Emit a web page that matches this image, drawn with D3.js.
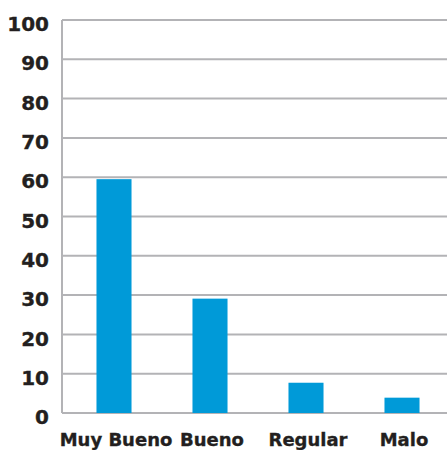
<!DOCTYPE html>
<html>
<head>
<meta charset="utf-8">
<script src="https://cdn.jsdelivr.net/npm/d3@7"></script>
<style>
  html, body { margin: 0; padding: 0; background: #fff; }
  svg { display: block; }
</style>
</head>
<body>
<svg id="chart" width="447" height="450"></svg>
<script>
const categories = ["Muy Bueno", "Bueno", "Regular", "Malo"];
const values = [59.5, 29.1, 7.7, 3.9];
const yTicks = [0, 10, 20, 30, 40, 50, 60, 70, 80, 90, 100];

const svg = d3.select("#chart");
const plot = { left: 62, right: 450, top: 20, bottom: 413 };
const textColor = "#231f20";
const fontFamily = "'DejaVu Sans', Verdana, sans-serif";

const x = d3.scaleBand()
  .domain(categories)
  .range([66, 450])
  .paddingInner(0.635)
  .paddingOuter(0.3175);

const y = d3.scaleLinear().domain([0, 100]).range([plot.bottom, plot.top]);

// horizontal gridlines
svg.append("g")
  .selectAll("line")
  .data(yTicks)
  .join("line")
  .attr("x1", plot.left)
  .attr("x2", plot.right)
  .attr("y1", d => y(d))
  .attr("y2", d => y(d))
  .attr("stroke", "#b3b3b6")
  .attr("stroke-width", 2);

// vertical axis line
svg.append("line")
  .attr("x1", plot.left).attr("x2", plot.left)
  .attr("y1", plot.top).attr("y2", plot.bottom)
  .attr("stroke", "#b3b3b6")
  .attr("stroke-width", 2);

// y tick labels
const yAxis = d3.axisLeft(y).tickValues(yTicks).tickSize(0).tickPadding(13);
const gy = svg.append("g").attr("transform", `translate(${plot.left},0)`).call(yAxis);
gy.select(".domain").remove();
gy.selectAll("text")
  .attr("font-size", 20)
  .attr("dy", "0.53em")
  .style("font-family", fontFamily)
  .style("font-weight", "bold")
  .attr("fill", textColor)
  .attr("stroke", textColor)
  .attr("stroke-width", 0.35);

// bars
svg.append("g")
  .selectAll("rect")
  .data(values)
  .join("rect")
  .attr("x", (d, i) => x(categories[i]))
  .attr("width", x.bandwidth())
  .attr("y", d => y(d))
  .attr("height", d => y(0) - y(d))
  .attr("fill", "#009ad8");

// x labels
const xAxis = d3.axisBottom(x).tickSize(0).tickPadding(0);
const gx = svg.append("g").attr("transform", `translate(2,${plot.bottom})`).call(xAxis);
gx.select(".domain").remove();
gx.selectAll("text")
  .attr("font-size", 18)
  .attr("y", 33)
  .attr("dy", 0)
  .style("font-family", fontFamily)
  .style("font-weight", "bold")
  .attr("fill", textColor)
  .attr("stroke", textColor)
  .attr("stroke-width", 0.35);
</script>
</body>
</html>
